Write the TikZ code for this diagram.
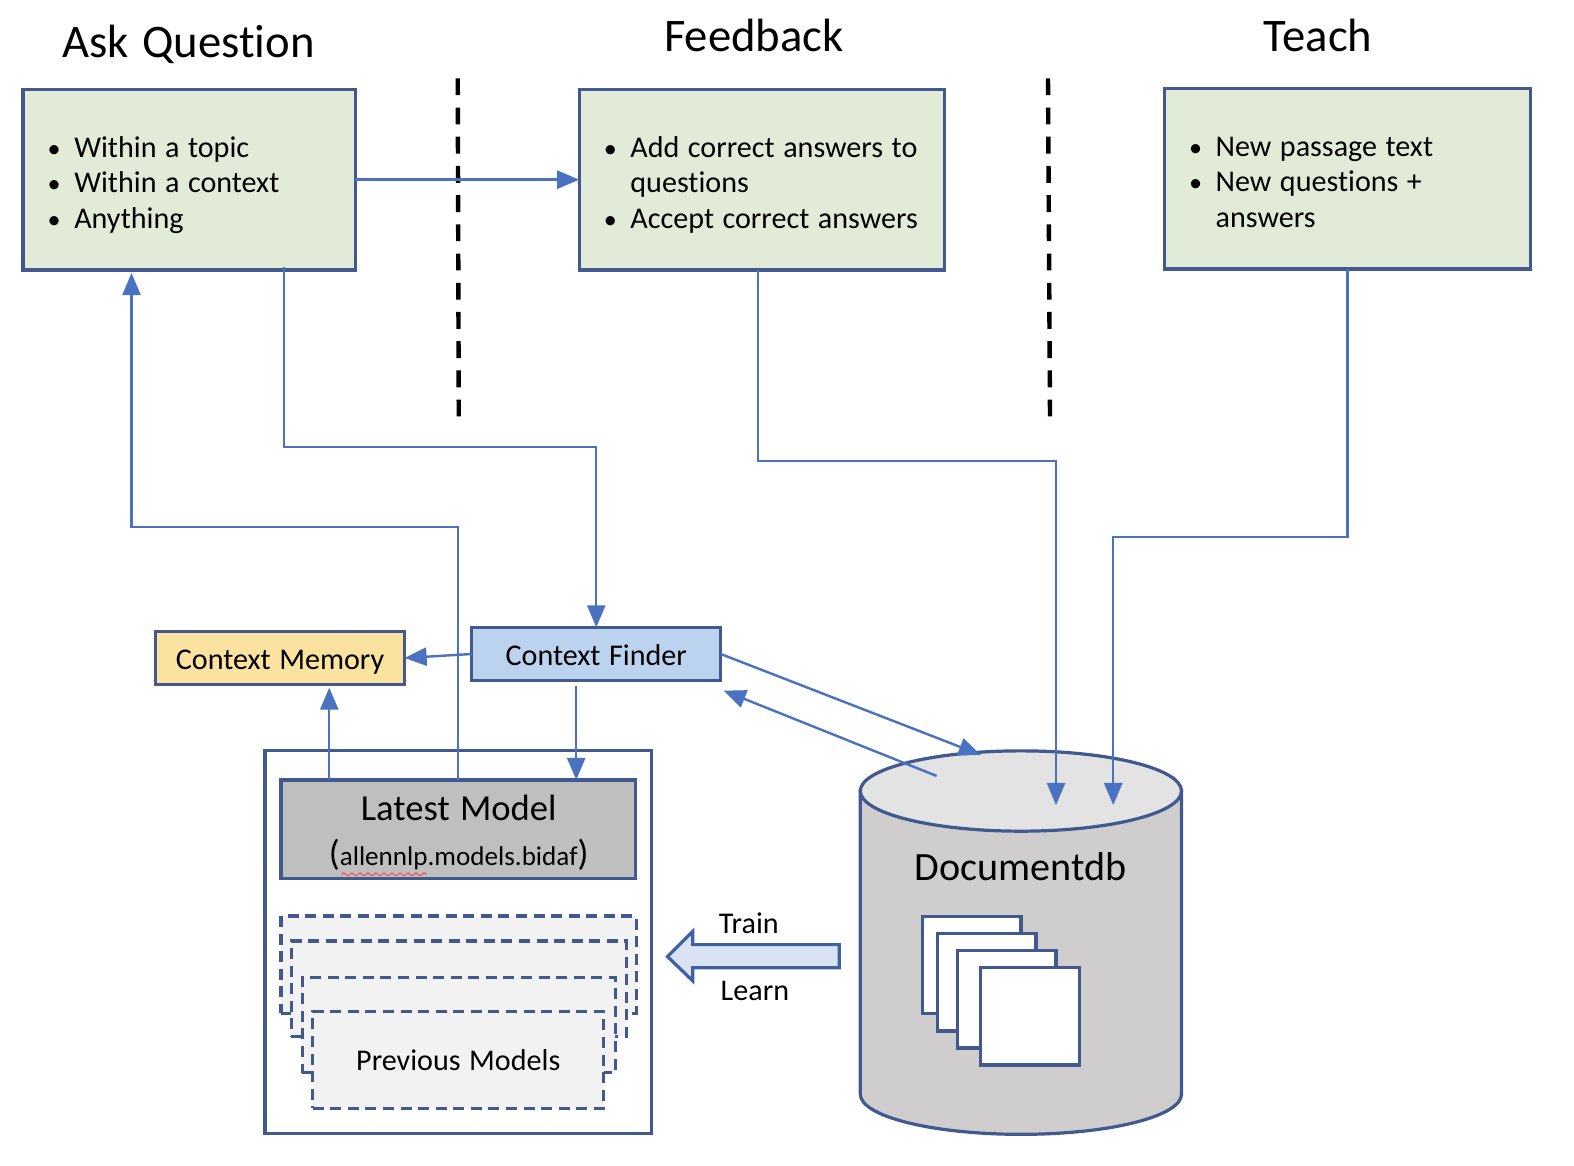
\documentclass[tikz,border=0pt]{standalone}
\usepackage{fontspec}
\setmainfont[Ligatures=NoCommon,WordSpace=1.25]{Carlito}
\usetikzlibrary{arrows.meta,decorations.pathmorphing}
\newcommand{\fsz}[2]{\fontsize{#1pt}{#2pt}\selectfont}
\definecolor{edge}{HTML}{41598F}
\definecolor{conn}{HTML}{4A72C0}
\definecolor{greenfill}{HTML}{E2EBD8}
\definecolor{bluefill}{HTML}{BBD3EE}
\definecolor{yellowfill}{HTML}{FBE29F}
\definecolor{modelfill}{HTML}{BFBFBF}
\definecolor{prevfill}{HTML}{F2F2F2}
\definecolor{dbbody}{HTML}{CFCDCE}
\definecolor{dbtop}{HTML}{E3E3E3}
\definecolor{arrowfill}{HTML}{DAE3F3}
\tikzset{
  box/.style={draw=edge,line width=3.2pt,outer sep=0pt,inner sep=0pt,align=center},
  greenbox/.style={box,fill=greenfill,text width=#1,align=left},
  prevbox/.style={box,fill=prevfill,dash pattern=on 11pt off 6.5pt},
  docbox/.style={box,fill=white,minimum width=98pt,minimum height=97pt},
  conn/.style={draw=conn,line width=2.4pt,-{Triangle[length=22pt,width=18pt]}},
  title/.style={font=\fsz{46.5}{52},inner sep=0pt},
  divider/.style={draw=black,line width=4.4pt,dash pattern=on 16.8pt off 12.3pt},
  lab/.style={inner sep=0pt}
}
\newcommand{\bul}{\makebox[12pt][c]{\fsz{26}{26}\textbullet}}
\newcommand{\bulletlist}[1]{\fsz{30}{35.3}\spaceskip=0pt\xspaceskip=0pt\hspace*{9.5pt}\raisebox{-6pt}[\height][\depth]{\begin{tabular}{@{}p{26pt}@{}l@{}}#1\end{tabular}}}
\begin{document}
\begin{tikzpicture}[x=1pt,y=-1pt]
\useasboundingbox (0,0) rectangle (1568,1161.5);
\fill[white] (0,0) rectangle (1568,1161.5);
% titles
\node[title] (t1) at (188,44.5) {Ask Question};
\node[title] (t2) at (751,35) {Feedback};
\node[title] (t3) at (1313,35) {Teach};
% dividers
\coordinate (d1a) at (456,78); \coordinate (d1b) at (457,415);
\coordinate (d2a) at (1044,78); \coordinate (d2b) at (1046,415);
\draw[divider] (d1a) -- (d1b);
\draw[divider] (d2a) -- (d2b);
% top boxes
\node[greenbox=300pt,minimum width=331pt,minimum height=180pt] (ask) at (188.5,179) {\bulletlist{\bul&Within a topic\\\bul&Within a context\\\bul&Anything}};
\node[greenbox=333pt,minimum width=364pt,minimum height=180pt] (fb) at (759,179) {\bulletlist{\bul&Add correct answers to\\&questions\\\bul&Accept correct answers}};
\node[greenbox=334pt,minimum width=365pt,minimum height=180pt] (teach) at (1342.5,178) {\bulletlist{\bul&New passage text\\\bul&New questions +\\&answers}};
% middle boxes
\node[box,fill=bluefill,minimum width=248pt,minimum height=53pt,font=\fsz{30}{34}] (finder) at (594,651.5) {\raisebox{-1pt}[\height][\depth]{Context Finder}};
\node[box,fill=yellowfill,minimum width=248pt,minimum height=53pt,font=\fsz{30}{34}] (memory) at (279,655.5) {\raisebox{-4pt}[\height][\depth]{Context Memory}};
% model container
\node[box,minimum width=385pt,minimum height=381pt] (outer) at (456.5,938.5) {};
\node[box,fill=modelfill,minimum width=353pt,minimum height=98pt] (model) at (456.5,826) {};
\node[lab,font=\fsz{36.5}{42}] (modelt) at (457,805) {Latest Model};
\node[lab,font=\fsz{27}{32}] (models) at (457,852) {{\fsz{36}{36}(}allennlp.models.bidaf{\fsz{36}{36})}};
\coordinate (sq1) at (340,871); \coordinate (sq2) at (425,871);
\draw[red!70!white,line width=1pt,decorate,decoration={snake,segment length=8pt,amplitude=1.5pt}] (sq1) -- (sq2);
\node[prevbox,minimum width=354pt,minimum height=97pt] (p1) at (457,961) {};
\node[prevbox,minimum width=334pt,minimum height=95pt] (p2) at (457,985) {};
\node[prevbox,minimum width=312pt,minimum height=95pt] (p3) at (457,1021) {};
\node[prevbox,minimum width=290pt,minimum height=96pt,font=\fsz{30}{34}] (p4) at (456.5,1056) {Previous Models};
% database
\draw[draw=edge,line width=3.2pt,fill=dbbody] (857,788) -- (857,1090) arc[start angle=180,end angle=360,x radius=160,y radius=-40] -- (1177,788) -- cycle;
\draw[draw=edge,line width=3.2pt,fill=dbtop] (1017,788) ellipse[x radius=160,y radius=40];
\node[lab,font=\fsz{40}{46}] (dbt) at (1017,863) {Documentdb};
\node[docbox] (doc1) at (968,961.5) {};
\node[docbox] (doc2) at (983,978.5) {};
\node[docbox] (doc3) at (1003,995.5) {};
\node[docbox] (doc4) at (1026,1012.5) {};
\coordinate (dbin1) at (1052,802);
\coordinate (dbin2) at (1109,802);
\coordinate (dbout) at (933,773);
\coordinate (dbtip) at (977,752);
\coordinate (findertip) at (721,688);
% train arrow
\draw[draw=conn!85!black,line width=3.2pt,fill=arrowfill,line join=miter] (836,941) -- (690,941) -- (690,928) -- (665,953) -- (690,977) -- (690,964) -- (836,964) -- cycle;
\node[lab,font=\fsz{30}{34}] (train) at (746,920) {Train};
\node[lab,font=\fsz{30}{34}] (learn) at (752,987) {Learn};
% connectors
\draw[conn] (ask.east) -- (fb.west);
\draw[conn] ([xshift=94.5pt,yshift=3pt]ask.south) -- ++(0,179) -| (finder.north);
\draw[conn] (model.north) -- ++(0,-252) -| ([xshift=-57.5pt,yshift=-3pt]ask.south);
\draw[conn] ([xshift=-4pt]fb.south) -- ++(0,190) -| (dbin1);
\draw[conn] (teach.south) -- ++(0,267) -| (dbin2);
\draw[conn] (finder.west) -- (memory.east);
\draw[conn] ([xshift=-128.5pt]model.north) -- ([xshift=49pt,yshift=-3pt]memory.south);
\draw[conn] ([xshift=-20pt,yshift=-5pt]finder.south) -- ([xshift=117.5pt]model.north);
\draw[conn] (finder.east) -- (dbtip);
\draw[conn] (dbout) -- (findertip);
\end{tikzpicture}
\end{document}
